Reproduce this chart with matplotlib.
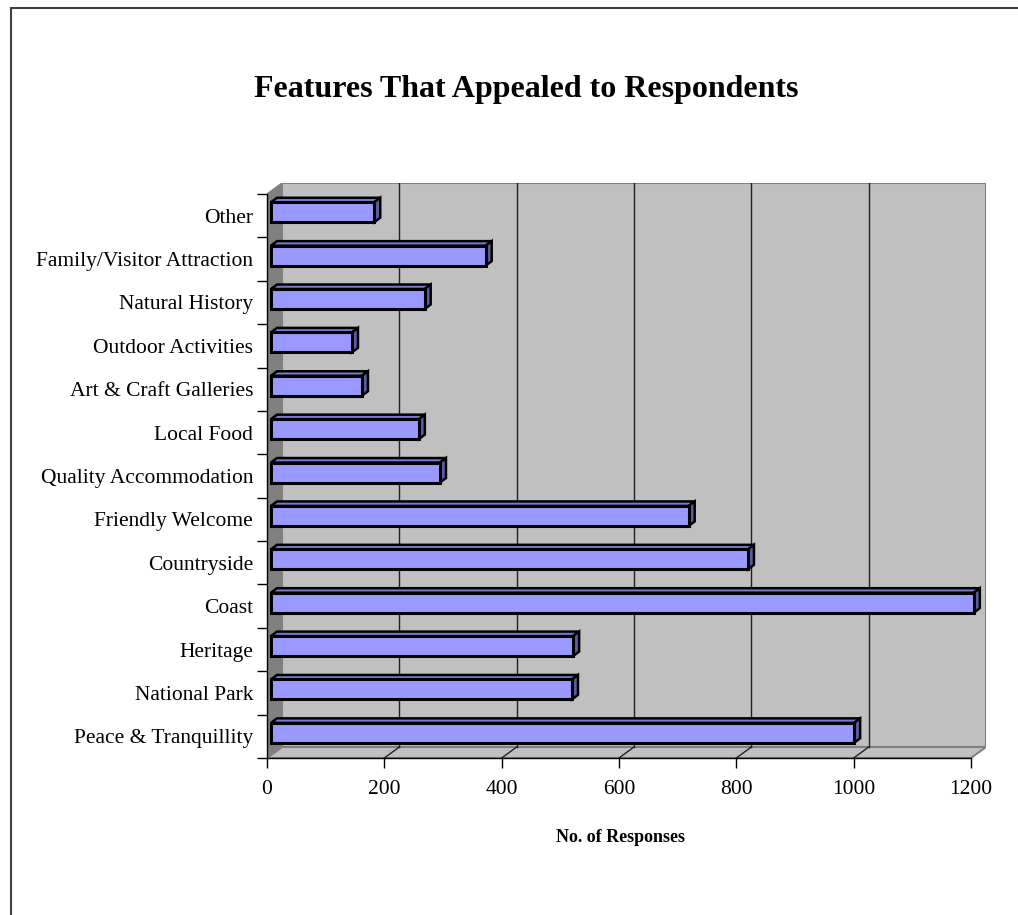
import matplotlib
matplotlib.use("Agg")
import matplotlib.pyplot as plt
from matplotlib.patches import Polygon, Rectangle
from matplotlib.lines import Line2D

# ---- data ----
categories = ["Peace & Tranquillity", "National Park", "Heritage", "Coast",
              "Countryside", "Friendly Welcome", "Quality Accommodation",
              "Local Food", "Art & Craft Galleries", "Outdoor Activities",
              "Natural History", "Family/Visitor Attraction", "Other"]
responses = [994, 513, 515, 1198, 813, 712, 288, 252, 155, 138, 262, 366, 176]
xticks = [0, 200, 400, 600, 800, 1000, 1200]
title = "Features That Appealed to Respondents"
xlabel = "No. of Responses"

plt.rcParams['font.family'] = ['Liberation Serif', 'DejaVu Serif']

W, H = 1018, 915
fig = plt.figure(figsize=(W / 100, H / 100), dpi=100)
fig.patch.set_facecolor("white")

# geometry (pixels)
x0_px, x1200_px = 267, 971
ybot_px, ytop_px = 758, 194
n = len(categories)
sx = (x1200_px - x0_px) / 1200.0          # px per unit
sy = (ybot_px - ytop_px) / n              # px per category
dx = 15 / sx                              # depth offset in data units
dy = 11 / sy

xmax = 1200 + dx
ymin, ymax = -0.5, n - 0.5 + dy
ax_w = xmax * sx
ax_h = (ymax - ymin) * sy
ax = fig.add_axes([x0_px / W, (H - ybot_px) / H, ax_w / W, ax_h / H])
ax.set_xlim(0, xmax)
ax.set_ylim(ymin, ymax)
ax.patch.set_visible(False)

gray_wall = "#c0c0c0"
gray_dark = "#808080"

# back wall
ax.add_patch(Rectangle((dx, -0.5 + dy), 1200, n, facecolor=gray_wall,
                       edgecolor=gray_dark, lw=1.5, zorder=1))
# floor
ax.add_patch(Polygon([(0, -0.5), (1200, -0.5), (1200 + dx, -0.5 + dy), (dx, -0.5 + dy)],
                     closed=True, facecolor=gray_wall, edgecolor=gray_dark, lw=1.5, zorder=1))
# left wall
ax.add_patch(Polygon([(0, -0.5), (dx, -0.5 + dy), (dx, n - 0.5 + dy), (0, n - 0.5)],
                     closed=True, facecolor=gray_dark, edgecolor=gray_dark, lw=1.0, zorder=1.5))
# gridlines on back wall and floor
for v in xticks[1:-1]:
    ax.add_line(Line2D([v + dx, v + dx], [-0.5 + dy, n - 0.5 + dy], color="#202020", lw=1.0, zorder=2))
    ax.add_line(Line2D([v, v + dx], [-0.5, -0.5 + dy], color="#202020", lw=1.0, zorder=2))

# bars
fx, fy = 4 / sx, 0.08
bdx, bdy = 6 / sx, 4.5 / sy
h = 0.46
for i, v in enumerate(responses):
    yb = i + fy - h / 2
    yt = i + fy + h / 2
    ax.add_patch(Rectangle((fx, yb), v, h, facecolor="#9999ff", edgecolor="black",
                           lw=2.2, zorder=5, joinstyle="miter"))
    ax.add_patch(Polygon([(fx, yt), (fx + v, yt), (fx + v + bdx, yt + bdy), (fx + bdx, yt + bdy)],
                         closed=True, facecolor="#7a7ad6", edgecolor="black", lw=1.8, zorder=4))
    ax.add_patch(Polygon([(fx + v, yb), (fx + v, yt), (fx + v + bdx, yt + bdy), (fx + v + bdx, yb + bdy)],
                         closed=True, facecolor="#5c5c9e", edgecolor="black", lw=1.8, zorder=4))

# axes spines and ticks
for s in ["top", "right"]:
    ax.spines[s].set_visible(False)
for s in ["left", "bottom"]:
    ax.spines[s].set_color("black")
    ax.spines[s].set_linewidth(1.0)
    ax.spines[s].set_zorder(6)
ax.spines["bottom"].set_bounds(0, 1200)
ax.spines["left"].set_bounds(-0.5, n - 0.5)

ax.set_yticks(range(n))
ax.set_yticklabels(categories, fontsize=15.5)
ax.set_yticks([i - 0.5 for i in range(n + 1)], minor=True)
ax.tick_params(axis="y", which="major", length=0, pad=10)
ax.tick_params(axis="y", which="minor", length=7.5, width=1.0, direction="out", color="black")

ax.set_xticks(xticks)
ax.set_xticklabels([str(t) for t in xticks], fontsize=15.5)
ax.tick_params(axis="x", which="major", length=7.5, width=1.0, direction="out", pad=8.5, color="black")

# titles
fig.text(526 / W, 1 - 89 / H, title, ha="center", va="center", fontsize=23, fontweight="bold")
fig.text(620 / W, 1 - 837 / H, xlabel, ha="center", va="center", fontsize=13, fontweight="bold")

# chart border (left & top visible)
fig.add_artist(Line2D([11 / W, 11 / W], [0, 1 - 8 / H], transform=fig.transFigure, color="#404040", lw=1.5))
fig.add_artist(Line2D([11 / W, 1], [1 - 8 / H, 1 - 8 / H], transform=fig.transFigure, color="#404040", lw=1.5))

fig.savefig("out.png", dpi=100)
